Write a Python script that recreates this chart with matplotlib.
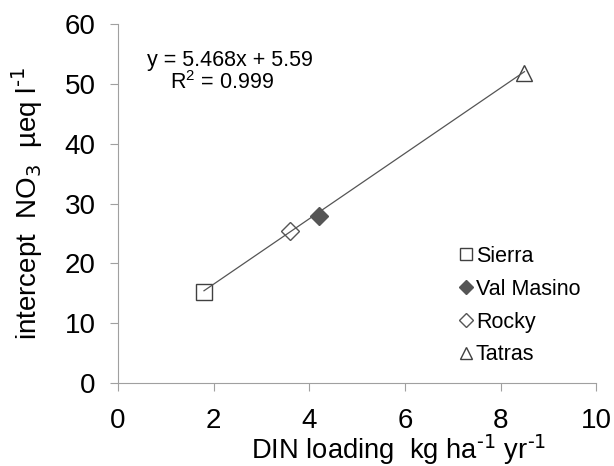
import matplotlib

matplotlib.use("Agg")
import matplotlib.pyplot as plt
import numpy as np

plt.rcParams["font.family"] = ["Liberation Sans", "DejaVu Sans"]

# DIN loading vs intercept NO3 per region
sites = ["Sierra", "Val Masino", "Rocky", "Tatras"]
din = [1.8, 4.2, 3.6, 8.5]
no3 = [15.3, 28.0, 25.5, 51.8]
slope, intercept = 5.468, 5.59

styles = {
    "Sierra": dict(marker="s", ms=12, mfc="none", mec="#404040"),
    "Val Masino": dict(marker="D", ms=9, mfc="#555555", mec="#555555"),
    "Rocky": dict(marker="D", ms=9, mfc="none", mec="#555555"),
    "Tatras": dict(marker="^", ms=12, mfc="none", mec="#404040"),
}

fig = plt.figure(figsize=(6.14, 4.66), dpi=100)
ax = fig.add_axes([0.192, 0.178, 0.779, 0.770])

for name, x, y in zip(sites, din, no3):
    ax.plot([x], [y], ls="none", mew=1.0, label=name, zorder=2, **styles[name])

xf = np.array([min(din), max(din)])
ax.plot(xf, slope * xf + intercept, color="#555555", lw=0.9, zorder=3)

ax.text(2.34, 54.0, f"y = {slope}x + {intercept}", fontsize=15.5, ha="center", va="center")
ax.text(2.18, 50.2, r"R$^{\mathregular{2}}$ = 0.999", fontsize=15.5, ha="center", va="center")

ax.set_xlim(0, 10)
ax.set_ylim(0, 60)
ax.set_xticks(range(0, 11, 2))
ax.set_yticks(range(0, 61, 10))
for s in ["top", "right"]:
    ax.spines[s].set_visible(False)
for s in ["left", "bottom"]:
    ax.spines[s].set_color("#a0a0a0")
ax.tick_params(colors="#a0a0a0", labelcolor="black", labelsize=20, length=6,
               direction="out")
ax.tick_params(axis="x", pad=12)
ax.tick_params(axis="y", pad=10)
ax.set_xlabel(r"DIN loading  kg ha$^{\text{-}1}$ yr$^{\text{-}1}$", fontsize=19.7)
ax.xaxis.set_label_coords(0.586, -0.138)
ax.set_ylabel(r"intercept  NO$_{3}$  µeq l$^{\text{-}1}$", fontsize=20, labelpad=14)

ax.legend(loc="lower right", bbox_to_anchor=(0.985, 0.025), frameon=False, fontsize=15.5,
          handlelength=0.5, handletextpad=0.2, labelspacing=0.55, markerscale=0.75,
          borderaxespad=0)

fig.savefig("out.png", dpi=100)
